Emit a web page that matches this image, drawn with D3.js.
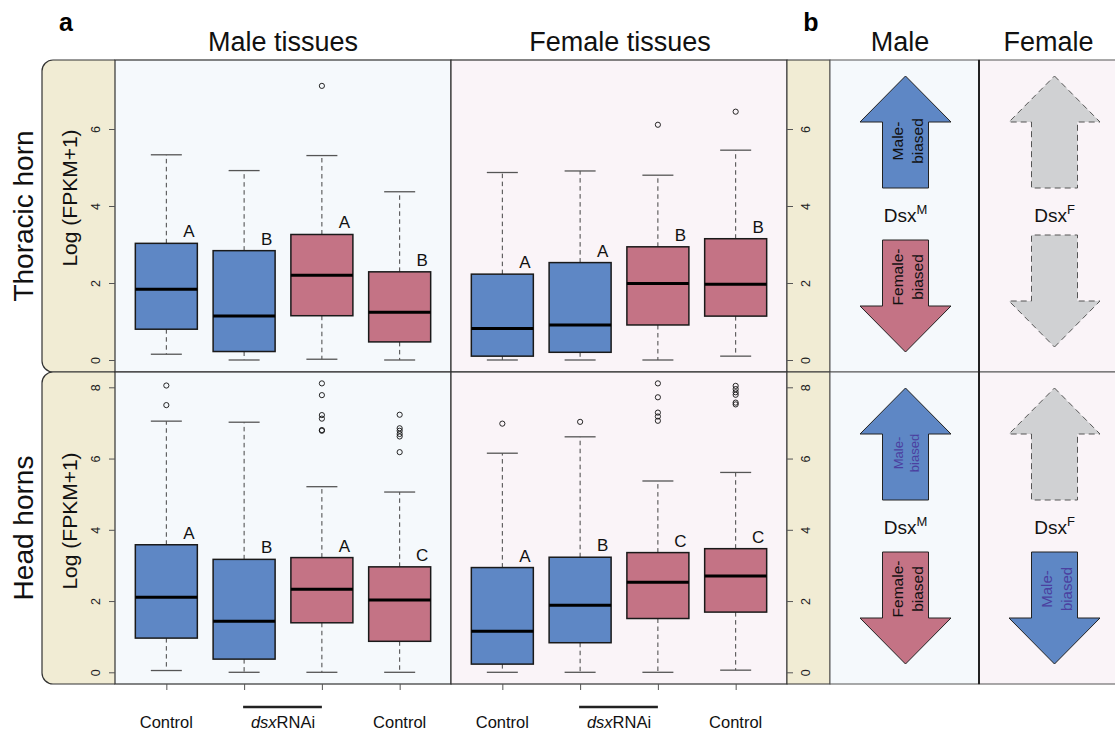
<!DOCTYPE html>
<html><head><meta charset="utf-8">
<script src="https://cdn.jsdelivr.net/npm/d3@7"></script>
<style>body{margin:0;background:#fff} svg{display:block;font-family:"Liberation Sans",Arial,Helvetica,sans-serif}</style>
</head><body><svg id="c" width="1115" height="731"></svg>
<script>
// ---------------- data ----------------
const rowNames = ["Thoracic horn", "Head horns"];
const tissueNames = ["Male tissues", "Female tissues"];
const treatments = ["Control", "dsxRNAi", "dsxRNAi", "Control"];
const geneSets = ["male-biased", "male-biased", "female-biased", "female-biased"];
const yTicksThoracic = [0, 2, 4, 6];
const yTicksHead = [0, 2, 4, 6, 8];

// [lower whisker, Q1, median, Q3, upper whisker]
const thoracicMaleStats = [
  [0.15, 0.80, 1.84, 3.03, 5.33],
  [0.00, 0.22, 1.14, 2.84, 4.92],
  [0.02, 1.15, 2.20, 3.26, 5.31],
  [0.00, 0.47, 1.24, 2.29, 4.37]];
const thoracicMaleOutliers = [[], [], [7.12], []];
const thoracicMaleLetters = ["A", "B", "A", "B"];

const thoracicFemaleStats = [
  [0.00, 0.10, 0.82, 2.23, 4.87],
  [0.00, 0.20, 0.91, 2.53, 4.91],
  [0.00, 0.91, 1.99, 2.94, 4.80],
  [0.10, 1.14, 1.97, 3.15, 5.45]];
const thoracicFemaleOutliers = [[], [], [6.11], [6.45]];
const thoracicFemaleLetters = ["A", "A", "B", "B"];

const headMaleStats = [
  [0.05, 0.96, 2.11, 3.58, 7.05],
  [0.00, 0.37, 1.43, 3.17, 7.02],
  [0.00, 1.39, 2.33, 3.22, 5.21],
  [0.00, 0.87, 2.03, 2.96, 5.06]];
const headMaleOutliers = [[8.05, 7.50], [], [8.11, 7.78, 7.22, 7.12, 6.80, 6.78], [7.23, 6.85, 6.78, 6.69, 6.62, 6.18]];
const headMaleLetters = ["A", "B", "A", "C"];

const headFemaleStats = [
  [0.00, 0.23, 1.15, 2.94, 6.15],
  [0.00, 0.83, 1.88, 3.23, 6.61],
  [0.00, 1.51, 2.53, 3.36, 5.37],
  [0.06, 1.69, 2.70, 3.47, 5.61]];
const headFemaleOutliers = [[6.98], [7.03], [8.11, 7.72, 7.29, 7.18, 7.06], [8.04, 7.95, 7.86, 7.79, 7.57, 7.52]];
const headFemaleLetters = ["A", "B", "C", "C"];

// panel b
const bSexes = ["Male", "Female"];
const dsxIsoforms = ["M", "F"];
const arrowLabels = ["Male-biased", "Female-biased"];

// ---------------- layout / style ----------------
const W = 1115, H = 731;
const COL = {blue: "#5e87c5", red: "#c47385", gray: "#d0d1d3", beige: "#f1ecd4",
  maleBg: "#f5f9fc", femaleBg: "#faf4f8", purple: "#4b40a0", line: "#333"};
const geneColor = d3.scaleOrdinal().domain(["male-biased", "female-biased"]).range([COL.blue, COL.red]);
const rowTop = [60, 372], rowBot = [372, 684];
const stripL = 42, panelX = [115, 451], panelW = 336;
const rStripX0 = 787, rStripX1 = 830;
const bX = [830, 979], bW = 149;

const svg = d3.select("#c");

const yScales = [
  d3.scaleLinear().domain([-12 / 38.5, 300 / 38.5]).range([rowBot[0], rowTop[0]]),
  d3.scaleLinear().domain([-11.7 / 35.625, 300.3 / 35.625]).range([rowBot[1], rowTop[1]])
];
const yTicks = [yTicksThoracic, yTicksHead];
const panelData = [
  [{stats: thoracicMaleStats, out: thoracicMaleOutliers, letters: thoracicMaleLetters},
   {stats: thoracicFemaleStats, out: thoracicFemaleOutliers, letters: thoracicFemaleLetters}],
  [{stats: headMaleStats, out: headMaleOutliers, letters: headMaleLetters},
   {stats: headFemaleStats, out: headFemaleOutliers, letters: headFemaleLetters}]
];

// ---- left rounded strips ----
const rr = 11;
rowTop.forEach((t, i) => {
  const b = rowBot[i];
  const p = d3.path();
  p.moveTo(panelX[0], t);
  p.lineTo(stripL + rr, t);
  p.arcTo(stripL, t, stripL, t + rr, rr);
  p.lineTo(stripL, b - rr);
  p.arcTo(stripL, b, stripL + rr, b, rr);
  p.lineTo(panelX[0], b);
  svg.append("path").attr("d", p.toString()).attr("fill", COL.beige).attr("stroke", COL.line).attr("stroke-width", 1.2);
});

// ---- panel backgrounds ----
rowTop.forEach((t, i) => {
  const h = rowBot[i] - t;
  panelX.forEach((px, j) => {
    svg.append("rect").attr("x", px).attr("y", t).attr("width", panelW).attr("height", h)
      .attr("fill", j === 0 ? COL.maleBg : COL.femaleBg).attr("stroke", COL.line).attr("stroke-width", 1.2);
  });
  svg.append("rect").attr("x", rStripX0).attr("y", t).attr("width", rStripX1 - rStripX0).attr("height", h)
    .attr("fill", COL.beige).attr("stroke", COL.line).attr("stroke-width", 1);
  bX.forEach((bx, j) => {
    svg.append("rect").attr("x", bx).attr("y", t).attr("width", bW).attr("height", h)
      .attr("fill", j === 0 ? COL.maleBg : COL.femaleBg).attr("stroke", "#555").attr("stroke-width", 1);
  });
});
// thick separator in panel b
svg.append("line").attr("x1", bX[1]).attr("x2", bX[1]).attr("y1", rowTop[0]).attr("y2", rowBot[1])
  .attr("stroke", "#222").attr("stroke-width", 2);

// ---- box plots ----
const xScales = panelX.map(px => d3.scaleLinear().domain([0.34, 4.66]).range([px, px + panelW]));
const boxW = 62;

panelData.forEach((row, ri) => {
  const y = yScales[ri];
  row.forEach((pd, pi) => {
    const x = xScales[pi];
    const g = svg.append("g");
    pd.stats.forEach((s, k) => {
      const cx = x(k + 1);
      const [lo, q1, med, q3, hi] = s;
      // whiskers (dashed)
      g.append("line").attr("x1", cx).attr("x2", cx).attr("y1", y(q3)).attr("y2", y(hi))
        .attr("stroke", "#444").attr("stroke-dasharray", "4.5,3.5").attr("stroke-width", 1);
      g.append("line").attr("x1", cx).attr("x2", cx).attr("y1", y(q1)).attr("y2", y(lo))
        .attr("stroke", "#444").attr("stroke-dasharray", "4.5,3.5").attr("stroke-width", 1);
      // caps
      [lo, hi].forEach(v => g.append("line").attr("x1", cx - boxW / 4).attr("x2", cx + boxW / 4)
        .attr("y1", y(v)).attr("y2", y(v)).attr("stroke", "#555").attr("stroke-width", 1.3));
      // box
      g.append("rect").attr("x", cx - boxW / 2).attr("y", y(q3)).attr("width", boxW).attr("height", y(q1) - y(q3))
        .attr("fill", geneColor(geneSets[k])).attr("stroke", "#1a1a1a").attr("stroke-width", 1.5);
      // median
      g.append("line").attr("x1", cx - boxW / 2).attr("x2", cx + boxW / 2).attr("y1", y(med)).attr("y2", y(med))
        .attr("stroke", "#000").attr("stroke-width", 3);
      // outliers
      pd.out[k].forEach(v => g.append("circle").attr("cx", cx).attr("cy", y(v)).attr("r", 2.6)
        .attr("fill", "none").attr("stroke", "#111").attr("stroke-width", 0.9));
      // letters
      g.append("text").attr("x", cx + 22.5).attr("y", y(q3) - 6).attr("text-anchor", "middle")
        .attr("font-size", 17).attr("fill", "#111").text(pd.letters[k]);
    });
  });

  // left axis
  const la = svg.append("g").attr("transform", `translate(${panelX[0]},0)`)
    .call(d3.axisLeft(y).tickValues(yTicks[ri]).tickSize(6).tickFormat(d3.format("d")));
  la.select(".domain").remove();
  la.selectAll(".tick line").attr("stroke", "#555");
  la.selectAll(".tick text").attr("transform", "rotate(-90)").attr("x", 0).attr("y", -15).attr("dy", 0)
    .attr("text-anchor", "middle").attr("font-size", 12.5).attr("fill", "#222")
    .attr("font-family", '"Liberation Sans",Arial,sans-serif');
  // right axis
  const ra = svg.append("g").attr("transform", `translate(${rStripX0},0)`)
    .call(d3.axisRight(y).tickValues(yTicks[ri]).tickSize(6).tickFormat(d3.format("d")));
  ra.select(".domain").remove();
  ra.selectAll(".tick line").attr("stroke", "#555");
  ra.selectAll(".tick text").attr("transform", "rotate(-90)").attr("x", 0).attr("y", 23).attr("dy", 0)
    .attr("text-anchor", "middle").attr("font-size", 12.5).attr("fill", "#222")
    .attr("font-family", '"Liberation Sans",Arial,sans-serif');

  // row labels
  const rc = (rowTop[ri] + rowBot[ri]) / 2;
  svg.append("text").attr("transform", `translate(33,${rc}) rotate(-90)`).attr("text-anchor", "middle")
    .attr("font-size", 28).attr("fill", "#111").text(rowNames[ri]);
  svg.append("text").attr("transform", `translate(77,${rc - (ri === 0 ? 18 : 7)}) rotate(-90)`).attr("text-anchor", "middle")
    .attr("font-size", 21).attr("fill", "#111").text("Log (FPKM+1)");
});

// ---- bottom axis ----
xScales.forEach((x, pi) => {
  const ba = svg.append("g").attr("transform", `translate(0,${rowBot[1]})`)
    .call(d3.axisBottom(x).tickValues([1, 2, 3, 4]).tickSize(6).tickFormat(""));
  ba.select(".domain").remove();
  ba.selectAll(".tick line").attr("stroke", "#555");
  // labels
  [0, 3].forEach(k => svg.append("text").attr("x", x(k + 1)).attr("y", 728).attr("text-anchor", "middle")
    .attr("font-size", 16.5).attr("fill", "#111").text(treatments[k]));
  const mid = (x(2) + x(3)) / 2;
  const t = svg.append("text").attr("x", mid).attr("y", 728).attr("text-anchor", "middle")
    .attr("font-size", 16.5).attr("fill", "#111");
  t.append("tspan").attr("font-style", "italic").text(treatments[1].slice(0, 3));
  t.append("tspan").text(treatments[1].slice(3));
  svg.append("line").attr("x1", x(2) - 1).attr("x2", x(3)).attr("y1", 707).attr("y2", 707)
    .attr("stroke", "#222").attr("stroke-width", 2.5);
});

// ---- titles ----
svg.append("text").attr("x", 66).attr("y", 31).attr("text-anchor", "middle").attr("font-size", 25)
  .attr("font-weight", "bold").text("a");
svg.append("text").attr("x", 811).attr("y", 31).attr("text-anchor", "middle").attr("font-size", 25)
  .attr("font-weight", "bold").text("b");
tissueNames.forEach((n, i) => svg.append("text").attr("x", xScales[i](2.5) + (i === 0 ? 0 : 1)).attr("y", 51)
  .attr("text-anchor", "middle").attr("font-size", 27).attr("fill", "#111").text(n));
bSexes.forEach((n, i) => svg.append("text").attr("x", i === 0 ? 900 : 1048.5).attr("y", 51)
  .attr("text-anchor", "middle").attr("font-size", 27).attr("fill", "#111").text(n));

// ---- panel b arrows ----
function arrowPath(cx, tip, base, end, hh, sh) {
  const p = d3.path();
  p.moveTo(cx, tip); p.lineTo(cx + hh, base); p.lineTo(cx + sh, base); p.lineTo(cx + sh, end);
  p.lineTo(cx - sh, end); p.lineTo(cx - sh, base); p.lineTo(cx - hh, base); p.closePath();
  return p.toString();
}
// arrow spec per row: [panel][up/down] -> {fill, dashed, label, textColor, fontSize}
const arrowSpecs = [
  [[{fill: COL.blue, label: arrowLabels[0], tc: "#111", fs: 15.5}, {fill: COL.red, label: arrowLabels[1], tc: "#111", fs: 15.5}],
   [{fill: COL.gray, dashed: true}, {fill: COL.gray, dashed: true}]],
  [[{fill: COL.blue, label: arrowLabels[0], tc: COL.purple, fs: 13}, {fill: COL.red, label: arrowLabels[1], tc: "#111", fs: 15.5}],
   [{fill: COL.gray, dashed: true}, {fill: COL.blue, label: arrowLabels[0], tc: COL.purple, fs: 15}]]
];
rowTop.forEach((t, ri) => {
  bX.forEach((bx, pi) => {
    const cx = bx + bW / 2 + 1;
    const up = arrowSpecs[ri][pi][0], dn = arrowSpecs[ri][pi][1];
    const dnOff = (ri === 0 && pi === 1) ? -5 : 0;
    const shapes = [
      {s: up, d: arrowPath(cx, t + 16, t + 62, t + 128, 45.5, 23), ty: t + 81},
      {s: dn, d: arrowPath(cx, t + 292 + dnOff, t + 246 + dnOff, t + 180 + dnOff, 45.5, 23), ty: t + 217}
    ];
    shapes.forEach(({s, d, ty}) => {
      svg.append("path").attr("d", d).attr("fill", s.fill)
        .attr("stroke", s.dashed ? "#555" : "#222").attr("stroke-width", 1)
        .attr("stroke-dasharray", s.dashed ? "6,4" : null).attr("stroke-linejoin", "miter");
      if (s.label) {
        const parts = s.label.split("-");
        const off = s.fs < 14 ? 16 : 19.5;
        svg.append("text").attr("transform", `translate(${cx - 2.5},${ty}) rotate(-90)`).attr("text-anchor", "middle")
          .attr("font-size", s.fs).attr("fill", s.tc).text(parts[0] + "-");
        svg.append("text").attr("transform", `translate(${cx - 2.5 + off},${ty}) rotate(-90)`).attr("text-anchor", "middle")
          .attr("font-size", s.fs).attr("fill", s.tc).text(parts[1]);
      }
    });
    const dt = svg.append("text").attr("x", cx).attr("y", t + 162).attr("text-anchor", "middle")
      .attr("font-size", 19).attr("fill", "#111");
    dt.append("tspan").text("Dsx");
    dt.append("tspan").attr("dy", -8).attr("font-size", 13).text(dsxIsoforms[pi]);
  });
});
</script></body></html>
